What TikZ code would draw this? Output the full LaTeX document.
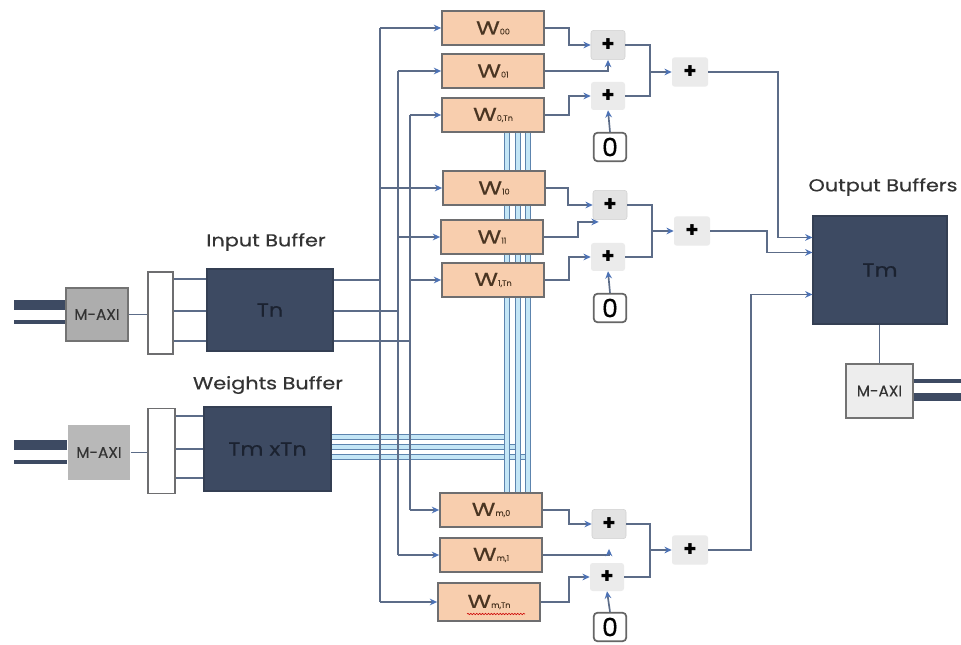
\documentclass[tikz,border=0pt]{standalone}
\usepackage{fontspec}
\setmainfont{Poppins}
\newfontfamily\medfont[FakeBold=0.35]{Poppins}
\usetikzlibrary{arrows.meta,calc,backgrounds,decorations.pathmorphing}
\definecolor{dk}{HTML}{3D4A62}
\definecolor{dktext}{HTML}{1B2230}
\definecolor{peach}{HTML}{F8CEAE}
\definecolor{wborder}{HTML}{6E6E70}
\definecolor{conn}{HTML}{5C6C88}
\definecolor{arrowblue}{HTML}{4C72B6}
\definecolor{busedge}{HTML}{5C84AE}
\definecolor{busfill}{HTML}{C4E6F6}
\definecolor{labeltext}{HTML}{333333}
\definecolor{wtext}{HTML}{4A3522}
\newcommand\wlab[1]{\scalebox{1.3}[1]{\medfont\fontsize{14}{14}\selectfont W}{\medfont\fontsize{6}{6}\selectfont #1}}
\newcommand\hstr[1]{\scalebox{1.2}[1]{#1}}
\begin{document}
\begin{tikzpicture}[x=0.75pt,y=-0.75pt,
  wire/.style={draw=conn,line width=1.25pt},
  arr/.style={wire,-{Stealth[length=5.5pt,width=5pt,color=arrowblue]}},
  wbus/.style={draw=busedge,double=busfill,double distance=2.4pt,line width=0.75pt},
  bufbox/.style={draw=dk!85!black,fill=dk,line width=0.8pt,inner sep=0pt,text=dktext,font=\medfont\fontsize{14}{15}\selectfont},
  maxibox/.style={line width=1.2pt,inner sep=0pt,text=labeltext,font=\medfont\fontsize{11.5}{12}\selectfont,minimum width=46.5pt,minimum height=40pt},
  busbox/.style={draw=wborder,fill=white,line width=1.1pt,inner sep=0pt,minimum width=19pt},
  wbox/.style={draw=wborder,fill=peach,line width=1.3pt,inner sep=0pt,minimum width=76.5pt,minimum height=25pt,text=wtext},
  plusa/.style={draw=black!18,fill=black!11,rounded corners=2pt,inner sep=0pt,minimum width=25.5pt,minimum height=22pt,font=\bfseries\fontsize{16}{16}\selectfont},
  plusb/.style={fill=black!8,rounded corners=2pt,inner sep=0pt,minimum width=25.5pt,minimum height=21pt,font=\bfseries\fontsize{16}{16}\selectfont},
  zerobox/.style={draw=black!60,fill=white,rounded corners=3pt,line width=1.3pt,inner sep=0pt,minimum width=24.5pt,minimum height=21.5pt,font=\medfont\fontsize{19}{19}\selectfont},
  lbl/.style={text=labeltext,font=\medfont\fontsize{13}{14}\selectfont}]
\useasboundingbox (0,0) rectangle (961,645);

% ---------------- left side
\node[maxibox,draw=black!55,fill=black!32] (maxi1) at (97,314.5) {M-AXI};
\node[maxibox,fill=black!28,minimum height=41pt] (maxi2) at (99,452.5) {M-AXI};
\node[busbox,minimum height=61.5pt] (bus1) at (160.5,313) {};
\node[busbox,minimum width=20pt,minimum height=63.5pt] (bus2) at (161.5,451) {};
\node[bufbox,minimum width=94.5pt,minimum height=61.5pt] (Tn) at (270,310) {\hstr{Tn}};
\node[bufbox,minimum width=95.25pt,minimum height=63pt] (TmTn) at (267.5,449) {\hstr{Tm xTn}};
\node[lbl] (lin) at (266,242) {\hstr{Input Buffer}};
\node[lbl] (lw) at (268,385) {\hstr{Weights Buffer}};

\coordinate (L1) at (14,305);
\coordinate (L2) at (14,322);
\coordinate (L3) at (14,445);
\coordinate (L4) at (14,462);
\draw[dk,line width=8pt] (L1) -- (L1 -| maxi1.west);
\draw[dk,line width=2.4pt] (L2) -- (L2 -| maxi1.west);
\draw[dk,line width=7.5pt] (L3) -- (L3 -| maxi2.west);
\draw[dk,line width=2.4pt] (L4) -- (L4 -| maxi2.west);
\draw[wire] (maxi1.east) -- (maxi1.east -| bus1.west);
\draw[wire] (maxi2.east) -- (maxi2.east -| bus2.west);
\foreach \d in {-31,1,31}
  \draw[wire] ($(Tn.west)+(0,\d)$) coordinate (q) -- (q -| bus1.east);
\foreach \d in {-33,0,29}
  \draw[wire] ($(TmTn.west)+(0,\d)$) coordinate (q) -- (q -| bus2.east);

% ---------------- W boxes
\node[wbox] (W00)  at (493,28)  {\wlab{00}};
\node[wbox] (W01)  at (493,71)  {\wlab{01}};
\node[wbox] (W0Tn) at (493,115) {\wlab{0,Tn}};
\node[wbox] (W10)  at (494,188) {\wlab{10}};
\node[wbox] (W11)  at (492,237) {\wlab{11}};
\node[wbox] (W1Tn) at (493,280) {\wlab{1,Tn}};
\node[wbox,minimum height=26pt] (Wm0)  at (491,510) {\wlab{m,0}};
\node[wbox,minimum height=25.5pt] (Wm1)  at (491,555) {\wlab{m,1}};
\node[wbox,minimum height=28pt] (WmTn) at (489,602) {\wlab{m,Tn}};
\draw[red!80!black,line width=0.45pt,decorate,decoration={snake,amplitude=0.5pt,segment length=2.2pt}]
  ($(WmTn.center)+(-22,12)$) -- ($(WmTn.center)+(36,12)$);

% ---------------- weights bus (behind W boxes)
\coordinate (wb1) at (507,0);
\coordinate (wb2) at (518,0);
\coordinate (wb3) at (528,0);
\begin{scope}[on background layer]
\fill[white] (0,0) rectangle (961,645);
\draw[wbus] ($(TmTn.east)+(0,-12)$) coordinate (h1) -- (h1 -| wb1);
\draw[wbus] ($(TmTn.east)+(0,-2)$) coordinate (h2) -- (h2 -| wb2);
\draw[wbus] ($(TmTn.east)+(0,8)$) coordinate (h3) -- (h3 -| wb3);
\foreach \c in {wb1,wb2,wb3}
  \draw[wbus] (W0Tn.south -| \c) -- (Wm0.north -| \c);
\end{scope}

% ---------------- input trunks
\coordinate (tr1) at (380,0);
\coordinate (tr2) at (398,0);
\coordinate (tr3) at (410,0);
\draw[wire] ($(Tn.east)+(0,-30)$) coordinate (to1) -- (to1 -| tr1);
\draw[wire] ($(Tn.east)+(0,1)$) coordinate (to2) -- (to2 -| tr2);
\draw[wire] ($(Tn.east)+(0,31)$) coordinate (to3) -- (to3 -| tr3);
\draw[wire] (W00.west -| tr1) -- (WmTn.west -| tr1);
\draw[wire] (W01.west -| tr2) -- (Wm1.west -| tr2);
\draw[wire] (W0Tn.west -| tr3) -- (Wm0.west -| tr3);
\foreach \w/\t in {W00/tr1,W01/tr2,W0Tn/tr3,W10/tr1,W11/tr2,W1Tn/tr3,Wm0/tr3,Wm1/tr2,WmTn/tr1}
  \draw[arr] (\w.west -| \t) -- (\w.west);

% ---------------- adders, group 1
\node[plusa] (pA1) at (608,45) {+};
\node[plusb] (pB1) at (608,96) {+};
\node[zerobox] (z1) at (610,147) {0};
\node[plusb,minimum width=27pt,minimum height=22pt] (f1) at (690,72) {+};
\draw[arr] (W00.east) -- ++(24,0) |- (pA1.west);
\draw[arr] (W01.east) -| (pA1.south);
\draw[arr] (W0Tn.east) -- ++(24,0) |- (pB1.west);
\draw[arr] (z1.north) -- (pB1.south);
\coordinate (j1) at ($(f1.west)+(-22,0)$);
\draw[wire] (pA1.east) -| (j1);
\draw[wire] (pB1.east) -| (j1);
\draw[arr] (j1) -- (f1.west);

% ---------------- adders, group 2
\node[plusa] (pA2) at (610,205) {+};
\node[plusb] (pB2) at (608,257) {+};
\node[zerobox] (z2) at (610,308) {0};
\node[plusb,minimum width=27pt,minimum height=22pt] (f2) at (692,231) {+};
\draw[arr] (W10.east) -- ++(22,0) |- (pA2.west);
\draw[arr] (W11.east) -- ++(34,0) |- ($(pA2.south west)+(6,2)$);
\draw[arr] (W1Tn.east) -- ++(24,0) |- (pB2.west);
\draw[arr] (z2.north) -- (pB2.south);
\coordinate (j2) at ($(f2.west)+(-22,0)$);
\draw[wire] (pA2.east) -| (j2);
\draw[wire] (pB2.east) -| (j2);
\draw[arr] (j2) -- (f2.west);

% ---------------- adders, group 3
\node[plusa] (pA3) at (609,524) {+};
\node[plusb] (pB3) at (607,577) {+};
\node[zerobox] (z3) at (610,627) {0};
\node[plusb,minimum width=27pt,minimum height=22pt] (f3) at (690,550) {+};
\draw[arr] (Wm0.east) -- ++(26,0) |- (pA3.west);
\draw[arr] (Wm1.east) -| ($(pA3.south)+(0,10)$);
\draw[arr] (WmTn.east) -- ++(28,0) |- (pB3.west);
\draw[arr] (z3.north) -- (pB3.south);
\coordinate (j3) at ($(f3.west)+(-22,0)$);
\draw[wire] (pA3.east) -| (j3);
\draw[wire] (pB3.east) -| (j3);
\draw[arr] (j3) -- (f3.west);

% ---------------- output buffer
\node[bufbox,minimum width=100.5pt,minimum height=81pt] (Tm) at (880,270) {\hstr{Tm}};
\node[lbl] (lout) at (883,187) {\hstr{Output Buffers}};
\node[maxibox,draw=black!55,fill=black!7,minimum width=50pt,minimum height=40.5pt] (maxi3) at (879.5,391) {M-AXI};
\draw[wire] (Tm.south -| maxi3.north) -- (maxi3.north);
\coordinate (R1) at (961,381);
\coordinate (R2) at (961,397);
\draw[dk,line width=2.4pt] (maxi3.east |- R1) -- (R1);
\draw[dk,line width=6.5pt] (maxi3.east |- R2) -- (R2);
\coordinate (tin1) at ($(Tm.north west)+(0,22)$);
\coordinate (tin2) at ($(Tm.north west)+(0,37)$);
\coordinate (tin3) at ($(Tm.north west)+(0,79)$);
\draw[arr] (f1.east) -- ++(70,0) |- (tin1);
\draw[arr] (f2.east) -- ++(57,0) |- (tin2);
\draw[arr] (f3.east) -- ++(43,0) |- (tin3);
\end{tikzpicture}
\end{document}
